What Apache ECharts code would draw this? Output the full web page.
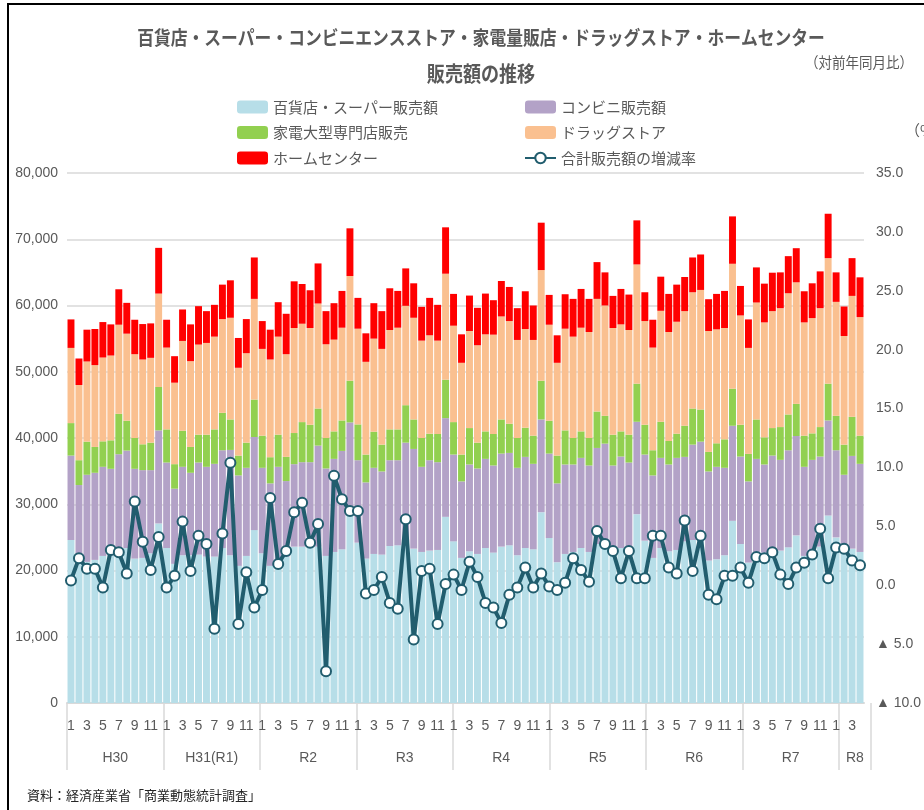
<!DOCTYPE html>
<html><head><meta charset="utf-8">
<script src="https://cdn.jsdelivr.net/npm/echarts@6/dist/echarts.min.js"></script>
<style>
html,body{margin:0;padding:0;background:#fff;overflow:hidden}
#frame{position:absolute;left:7px;top:3px;width:2000px;height:2000px;border-left:2px solid #000;border-top:2px solid #000}
#chart{position:absolute;left:0;top:0;width:924px;height:810px}
</style></head><body>
<div id="frame"></div>
<div id="chart"></div>
<script>
// ---- categories ----
const yearLabels = ['H30','H31(R1)','R2','R3','R4','R5','R6','R7','R8'];
const monthsInYear = [12,12,12,12,12,12,12,12,4];

// ---- series values (monthly) ----
const deptSuper = [
  24600,21600,21300,21600,22200,22300,23000,23400,21800,21900,22600,27100,
  23400,21000,22300,22300,22400,22100,22100,23400,22300,20700,22200,26100,
  22600,20700,21300,22100,23600,23600,23600,23600,22200,22800,23200,28400,
  24200,21800,22500,22400,23700,23800,24400,23300,22800,23000,23100,28100,
  24400,21900,22900,22500,23400,22700,23600,23800,22300,23400,23200,28800,
  24900,21250,22500,22800,23400,22800,24000,23800,23200,23400,23400,28500,
  24500,21900,23400,22900,23100,24400,24600,24400,21500,21700,22300,27500,
  24000,21200,22500,22700,23100,23000,23500,25300,22200,22800,23600,28300,
  25000,22800,23300,22800
];
const conbini = [
  12750,11300,13150,13150,13450,13050,14550,14700,13550,13250,12550,14050,
  12900,11350,13350,12450,13900,13550,14000,14750,15900,13650,13300,14050,
  12900,12450,14350,11400,12450,12750,12750,15250,13200,14050,14850,13950,
  12450,11500,13000,12550,12950,12850,14900,15050,12850,13650,13250,14900,
  13100,11550,13100,12900,13450,13150,14050,13950,13200,13750,12900,14000,
  12750,11900,13500,13200,13600,13050,14500,15350,12650,13800,12900,13950,
  13000,12450,13600,13100,13900,12750,14400,15050,13450,13950,13200,14350,
  13200,12250,14350,13300,14250,13700,14650,15000,13450,13900,13600,14350,
  13150,11650,14000,13300
];
const kaden = [
  4900,3750,5000,3900,3850,4300,6100,4500,4650,3900,4150,6550,
  5000,3700,5450,3900,4200,4850,5200,5650,4600,3000,3800,5650,
  4850,3950,4850,3650,4700,6050,5650,5600,4600,4150,4600,6300,
  5400,4200,5450,4050,4650,4650,5650,4450,4350,4000,4250,5800,
  4900,4050,5500,3900,4150,4750,5150,4400,4500,4400,4250,5850,
  4950,4200,5150,4000,4000,4150,5500,4200,4650,3800,4200,5750,
  4500,3800,5450,3550,3650,4700,5450,4850,2950,3550,4300,5600,
  4800,4150,5950,4100,4150,4950,5400,4850,4700,4000,4450,5550,
  5200,4550,5900,4250
];
const drug = [
  11350,11350,12100,12350,12650,12800,13450,13150,12650,12800,12800,14100,
  12350,12300,13550,12950,13600,13850,14000,14150,15350,13250,13500,15200,
  13100,14750,14800,15500,15850,14850,14600,15850,14150,13850,14000,15800,
  14450,14000,14050,14450,15000,15350,15000,15350,14700,14850,14100,16000,
  14550,13850,14650,14700,14650,15000,15550,15500,14800,14900,14450,16700,
  14500,14000,15350,15300,15650,16000,17000,16650,16100,16150,15800,18000,
  15650,15500,16750,16450,16900,17300,17550,18050,18250,17200,16800,18850,
  16500,16000,17650,17350,17650,17950,18300,18350,17100,17400,17950,18950,
  17200,16400,18250,17900
];
const homeCenter = [
  4300,4000,4800,5450,5350,4700,5350,4650,5200,5350,5200,6900,
  4200,4000,4750,5550,5800,4800,4800,5200,5650,4500,5150,6250,
  4200,4500,5200,6100,7050,6000,5700,6050,5000,5500,5550,7200,
  4650,4300,5350,5700,6300,5550,5650,5200,5100,5650,5400,7000,
  4800,4300,5350,5650,6150,5200,5350,5150,4800,5700,5200,7150,
  4500,4150,5200,5700,5850,5000,5550,5000,4850,5350,5350,6650,
  4350,4200,5150,5750,5600,5150,5250,5350,4800,5350,5600,7150,
  4450,4300,5300,5850,5800,5400,5600,5150,4700,5250,5550,6700,
  4450,4450,5700,6000
];
const totalRate = [
  0.4,2.3,1.4,1.4,-0.2,3.0,2.8,1.0,7.1,3.7,1.3,4.1,
  -0.2,0.8,5.4,1.2,4.2,3.5,-3.7,4.4,10.4,-3.3,1.1,-1.9,
  -0.4,7.4,1.8,2.9,6.2,7.0,3.6,5.2,-7.3,9.3,7.3,6.3,
  6.3,-0.7,-0.4,0.7,-1.5,-2.0,5.6,-4.6,1.2,1.4,-3.3,0.1,
  0.9,-0.4,2.0,0.7,-1.5,-1.9,-3.2,-0.8,-0.2,1.5,-0.2,1.0,
  -0.1,-0.4,0.2,2.3,1.3,0.3,4.6,3.5,2.9,0.6,2.9,0.6,
  0.6,4.2,4.2,1.5,1.0,5.5,1.2,4.2,-0.8,-1.2,0.8,0.8,
  1.5,0.2,2.4,2.3,2.8,0.9,0.1,1.5,1.9,2.6,4.8,0.6,
  3.2,3.1,2.1,1.7
];

// ---- names ----
const seriesNames = ['百貨店・スーパー販売額','コンビニ販売額','家電大型専門店販売','ドラッグストア','ホームセンター','合計販売額の増減率'];
const titleLine1 = '百貨店・スーパー・コンビニエンスストア・家電量販店・ドラッグストア・ホームセンター';
const titleLine2 = '販売額の推移';
const noteText = '（対前年同月比）';
const unitText = '（%）';
const sourceText = '資料：経済産業省「商業動態統計調査」';

// ---- build categories ----
const monthCats = [], yearCats = [], yearMid = {};
let idx = 0;
yearLabels.forEach((y, k) => {
  const n = monthsInYear[k];
  yearMid[idx + Math.floor((n - 1) / 2)] = true;
  for (let m = 1; m <= n; m++) { monthCats.push(String(m)); yearCats.push(y); }
  idx += n;
});

const GRAY = '#595959';
const NUMFONT = "'Liberation Sans','Noto Sans CJK JP',sans-serif";
const JPFONT = "'Noto Sans CJK JP','Noto Sans',sans-serif";
const colors = ['#b7dee8','#b3a2c7','#92d050','#fac090','#ff0000'];
const barData = [deptSuper, conbini, kaden, drug, homeCenter];

const chart = echarts.init(document.getElementById('chart'), null, {renderer: 'canvas'});
const series = barData.map((d, k) => ({
  name: seriesNames[k], type: 'bar', stack: 'total', data: d,
  barCategoryGap: '13%', itemStyle: {color: colors[k]}, emphasis: {disabled: true}
}));
series.push({
  name: seriesNames[5], type: 'line', yAxisIndex: 1, data: totalRate,
  symbol: 'circle', symbolSize: 10, showAllSymbol: true, z: 10,
  lineStyle: {color: '#215d6e', width: 4},
  itemStyle: {color: '#ffffff', borderColor: '#215d6e', borderWidth: 2},
  emphasis: {disabled: true}
});

const legendCommon = {
  orient: 'vertical', itemWidth: 31, itemHeight: 13, itemGap: 10.5, padding: 0,
  textStyle: {color: GRAY, fontSize: 15, lineHeight: 15, fontFamily: JPFONT},
  selectedMode: false
};

chart.setOption({
  animation: false,
  backgroundColor: 'transparent',
  legend: [
    Object.assign({left: 237, top: 99.5, data: [seriesNames[0], seriesNames[2], seriesNames[4]]}, legendCommon),
    Object.assign({left: 524, top: 99.5, data: [seriesNames[1], seriesNames[3], seriesNames[5]]}, legendCommon)
  ],
  grid: [
    {left: 67, right: 53, top: 173, bottom: 107, containLabel: false},
    {left: 67, right: 53, top: 703, bottom: 40, containLabel: false}
  ],
  xAxis: [
    {
      type: 'category', data: monthCats, position: 'bottom', gridIndex: 0,
      axisLine: {show: true, lineStyle: {color: '#d9d9d9', width: 2}},
      axisTick: {show: false},
      axisLabel: {interval: 1, margin: 16, color: GRAY, fontSize: 14, fontFamily: NUMFONT, hideOverlap: false}
    },
    {
      type: 'category', data: yearCats, position: 'bottom', gridIndex: 1,
      axisLine: {show: false}, axisTick: {show: false},
      splitLine: {show: true, interval: 11, lineStyle: {color: '#d9d9d9', width: 1.5}},
      axisLabel: {interval: (i) => !!yearMid[i], inside: true, margin: 5, color: GRAY, fontSize: 14, fontFamily: NUMFONT, padding: [0, 0, 0, 8]}
    }
  ],
  yAxis: [
    {
      type: 'value', min: 0, max: 80000, interval: 10000, gridIndex: 0,
      axisLine: {show: false}, axisTick: {show: false},
      splitLine: {lineStyle: {color: '#d9d9d9', width: 1.5}},
      axisLabel: {margin: 9, color: GRAY, fontSize: 14, fontFamily: NUMFONT,
        formatter: (v) => v.toLocaleString('en-US')}
    },
    {
      type: 'value', min: -10, max: 35, interval: 5, position: 'right', gridIndex: 0,
      axisLine: {show: false}, axisTick: {show: false}, splitLine: {show: false},
      axisLabel: {margin: 12, color: GRAY, fontSize: 14, fontFamily: NUMFONT,
        formatter: (v) => v < 0 ? '▲ ' + Math.abs(v).toFixed(1) : v.toFixed(1)}
    },
    {
      type: 'value', gridIndex: 1, show: false, min: 0, max: 1, splitLine: {show: false}
    }
  ],
  graphic: [
    {type: 'text', x: 481, y: 38, scaleX: 0.86, style: {text: titleLine1, align: 'center', verticalAlign: 'middle', fill: GRAY, fontSize: 19.5, fontWeight: 'bold', fontFamily: JPFONT}},
    {type: 'text', x: 481, y: 73, scaleX: 0.86, style: {text: titleLine2, align: 'center', verticalAlign: 'middle', fill: GRAY, fontSize: 21, fontWeight: 'bold', fontFamily: JPFONT}},
    {type: 'text', x: 913, y: 62, scaleX: 0.9, style: {text: noteText, align: 'right', verticalAlign: 'middle', fill: GRAY, fontSize: 15, fontFamily: JPFONT}},
    {type: 'text', x: 905, y: 130, style: {text: unitText, align: 'left', verticalAlign: 'middle', fill: GRAY, fontSize: 15, fontFamily: JPFONT}},
    {type: 'text', x: 27, y: 795, style: {text: sourceText, align: 'left', verticalAlign: 'middle', fill: '#262626', fontSize: 13, fontFamily: JPFONT}}
  ],
  series: series
});
</script></body></html>
